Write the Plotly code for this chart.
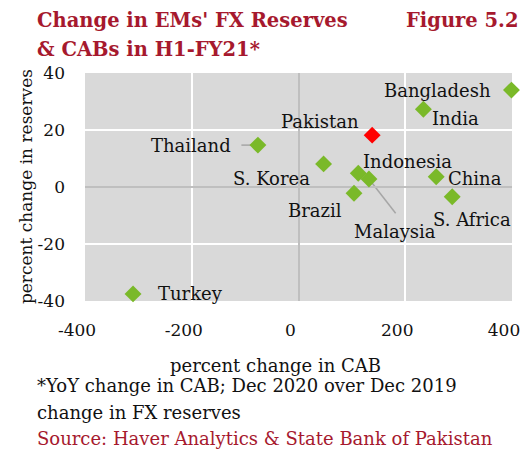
import plotly.graph_objects as go

countries = ["Bangladesh", "India", "Pakistan", "Thailand", "S. Korea", "Indonesia",
             "Malaysia", "Brazil", "China", "S. Africa", "Turkey"]
cab_change = [399, 234, 138, -76, 47, 112, 132, 104, 258, 288, -310]
reserves_change = [34.0, 27.3, 18.2, 14.7, 8.1, 4.8, 2.8, -2.2, 3.6, -3.4, -37.5]
colors = ["#7AB929"] * 11
colors[2] = "#FF0000"

# label positions (data coords)
label_x = [260, 294, 41, -202, -51, 204, 180, 30, 331, 325, -202]
label_y = [34.0, 24.1, 22.9, 14.4, 3.0, 8.9, -15.7, -8.1, 3.0, -11.3, -37.3]

x_ticks = [-400, -200, 0, 200, 400]
x_tick_text = ["-400", "-200", "0", "200", "400"]
y_ticks = [-40, -20, 0, 20, 40]
y_tick_text = ["-40", "-20", "0", "20", "40"]

SERIF = "Palatino Linotype, Book Antiqua, Palatino, DejaVu Serif, serif"
RED = "#A6192E"
TXT = "#111111"

fig = go.Figure()
fig.add_trace(go.Scatter(
    x=cab_change, y=reserves_change, mode="markers",
    marker=dict(symbol="diamond", size=13, color=colors, line=dict(width=0)),
    showlegend=False, hoverinfo="skip", cliponaxis=False))

# leader lines
fig.add_shape(type="line", x0=-107, y0=14.7, x1=cab_change[3], y1=reserves_change[3],
              line=dict(color="#A6A6A6", width=1.5), layer="below")
fig.add_shape(type="line", x0=cab_change[6], y0=reserves_change[6], x1=182, y1=-9.2,
              line=dict(color="#A6A6A6", width=1.5), layer="below")

for name, lx, ly in zip(countries, label_x, label_y):
    fig.add_annotation(x=lx, y=ly, text=name, showarrow=False, xanchor="center",
                       yanchor="middle", font=dict(family=SERIF, size=18, color=TXT))

def pa(text, x, y, size, color, xanchor="left", bold=False, angle=0):
    fig.add_annotation(xref="paper", yref="paper", x=x, y=y, xanchor=xanchor,
                       yanchor="middle", showarrow=False, textangle=angle,
                       text=f"<b>{text}</b>" if bold else text,
                       font=dict(family=SERIF, size=size, color=color))

pa("Change in EMs' FX Reserves", -0.117, 1.232, 19.5, RED, bold=True)
pa("& CABs in H1-FY21*", -0.117, 1.101, 19.5, RED, bold=True)
pa("Figure 5.2", 1.019, 1.232, 19.5, RED, xanchor="right", bold=True)
pa("percent change in CAB", 0.445, -0.283, 18, TXT, xanchor="center")
pa("percent change in reserves", -0.138, 0.5, 17, TXT, xanchor="center", angle=-90)
pa("*YoY change in CAB; Dec 2020 over Dec 2019", -0.117, -0.372, 18, TXT)
pa("change in FX reserves", -0.117, -0.49, 18, TXT)
pa("Source: Haver Analytics & State Bank of Pakistan", -0.117, -0.603, 18, RED)

fig.update_xaxes(range=[-400, 400], tickvals=x_ticks, ticktext=x_tick_text, showgrid=True,
                 gridcolor="white", gridwidth=1.5, zeroline=True, zerolinecolor="#BFBFBF",
                 zerolinewidth=1.5, showline=False, ticks="", automargin=False,
                 ticklabeloverflow="allow", ticklabelshift=-8,
                 ticklabelstandoff=17, tickfont=dict(family=SERIF, size=17, color=TXT))
fig.update_yaxes(range=[-40, 40], tickvals=y_ticks, ticktext=y_tick_text, showgrid=True,
                 gridcolor="white", gridwidth=1.5, zeroline=True, zerolinecolor="#BFBFBF",
                 zerolinewidth=1.5, showline=False, ticks="", automargin=False,
                 ticklabeloverflow="allow",
                 ticklabelstandoff=19, tickfont=dict(family=SERIF, size=17, color=TXT))

# page body has an 8px margin on every side, so the figure is sized to fit inside the 528x457 view
fig.update_layout(width=520, height=441, margin=dict(l=77, r=16, t=65, b=148),
                  plot_bgcolor="#D9D9D9", paper_bgcolor="white")

fig.write_html("out.html")
